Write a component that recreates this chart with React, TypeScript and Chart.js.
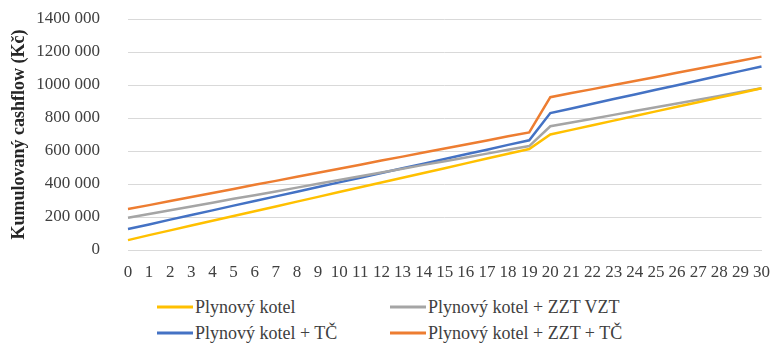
import React, { useEffect, useRef } from "react";
import { Chart, registerables } from "chart.js";

Chart.register(...registerables);

// Years of operation
const years: string[] = Array.from({ length: 31 }, (_, i) => String(i));

// Cumulative cash flow (Kč) per variant
const plynovyKotel: number[] = [
  60000, 90000, 119000, 148000, 177000, 206000, 235000, 264000, 293000, 322000,
  351000, 380000, 409000, 438000, 467000, 496000, 525000, 554000, 583000, 612000,
  700000, 728000, 756000, 784000, 812000, 840000, 868000, 896000, 924000, 952000, 980000,
];
const kotelZztVzt: number[] = [
  195000, 218000, 241000, 264000, 287000, 310000, 332000, 355000, 378000, 401000,
  424000, 447000, 470000, 493000, 516000, 538000, 561000, 584000, 607000, 630000,
  750000, 773000, 796000, 819000, 842000, 865000, 888000, 911000, 934000, 957000, 980000,
];
const kotelTc: number[] = [
  127000, 155000, 184000, 212000, 240000, 269000, 297000, 325000, 353000, 382000,
  410000, 438000, 467000, 495000, 523000, 552000, 580000, 608000, 637000, 665000,
  830000, 858000, 886000, 915000, 943000, 971000, 999000, 1027000, 1056000, 1084000, 1112000,
];
const kotelZztTc: number[] = [
  248000, 272000, 297000, 321000, 346000, 370000, 395000, 419000, 444000, 468000,
  493000, 517000, 542000, 566000, 591000, 615000, 640000, 664000, 689000, 713000,
  926000, 951000, 975000, 1000000, 1024000, 1049000, 1074000, 1098000, 1123000, 1147000, 1172000,
];

const seriesLabels: string[] = [
  "Plynový kotel",
  "Plynový kotel + ZZT VZT",
  "Plynový kotel + TČ",
  "Plynový kotel + ZZT + TČ",
];
const seriesColors: string[] = ["#FFC000", "#A5A5A5", "#4472C4", "#ED7D31"];

const yTitle = "Kumulovaný cashflow (Kč)";

const SERIF = "Liberation Serif";

function formatCzk(v: number): string {
  if (v === 0) return "0";
  const thousands = Math.floor(v / 1000);
  const rest = String(Math.round(v % 1000)).padStart(3, "0");
  return thousands + "\u00a0" + rest;
}

export default function App() {
  const canvasRef = useRef<HTMLCanvasElement | null>(null);

  useEffect(() => {
    if (!canvasRef.current) return;
    const values = [plynovyKotel, kotelZztVzt, kotelTc, kotelZztTc];
    const chart = new Chart(canvasRef.current, {
      type: "line",
      data: {
        labels: years,
        datasets: values.map((d, i) => ({
          label: seriesLabels[i],
          data: d,
          borderColor: seriesColors[i],
          backgroundColor: seriesColors[i],
          borderWidth: 2.5,
          pointRadius: 0,
          tension: 0,
        })),
      },
      options: {
        animation: false,
        responsive: false,
        maintainAspectRatio: false,
        layout: { padding: { top: 19, right: 0, left: 0, bottom: 0 } },
        plugins: { legend: { display: false }, tooltip: { enabled: false } },
        scales: {
          x: {
            type: "category",
            offset: false,
            grid: {
              display: true,
              drawOnChartArea: false,
              drawTicks: true,
              tickLength: 12,
              color: "#E4E4E4",
              tickColor: "rgba(0,0,0,0)",
            },
            border: { display: true, color: "#D9D9D9", width: 1 },
            ticks: {
              autoSkip: false,
              maxRotation: 0,
              minRotation: 0,
              padding: 0,
              color: "#404040",
              font: { family: SERIF, size: 17 },
            },
            afterFit: (scale: any) => {
              scale.height = 40;
            },
          },
          y: {
            min: 0,
            max: 1400000,
            ticks: {
              stepSize: 200000,
              padding: 0,
              color: "#404040",
              font: { family: SERIF, size: 17 },
              callback: (v: any) => formatCzk(Number(v)),
            },
            grid: {
              color: "#D9D9D9",
              lineWidth: 1,
              drawTicks: true,
              tickLength: 28,
              tickColor: "rgba(0,0,0,0)",
            },
            border: { display: false },
            title: {
              display: true,
              text: yTitle,
              color: "#262626",
              font: { family: SERIF, size: 18, weight: "bold" },
              padding: { top: 9, bottom: 0 },
            },
            afterFit: (scale: any) => {
              scale.width = 128;
            },
          },
        },
      },
    });
    return () => chart.destroy();
  }, []);

  const legendPos = [
    { left: 157, top: 307 },
    { left: 390, top: 307 },
    { left: 157, top: 333 },
    { left: 390, top: 333 },
  ];

  return (
    <div
      style={{
        position: "fixed",
        left: 0,
        top: 0,
        width: 770,
        height: 345,
        background: "#ffffff",
        overflow: "hidden",
      }}
    >
      <canvas ref={canvasRef} width={770} height={290} style={{ display: "block" }} />
      {seriesLabels.map((name, i) => (
        <div
          key={name}
          style={{
            position: "absolute",
            left: legendPos[i].left,
            top: legendPos[i].top,
            transform: "translateY(-50%)",
            display: "flex",
            alignItems: "center",
            fontFamily: SERIF,
            fontSize: 18,
            color: "#404040",
            whiteSpace: "nowrap",
          }}
        >
          <span
            style={{
              display: "inline-block",
              width: 36,
              height: 2.5,
              background: seriesColors[i],
              marginRight: 2,
            }}
          />
          <span>{name}</span>
        </div>
      ))}
    </div>
  );
}
